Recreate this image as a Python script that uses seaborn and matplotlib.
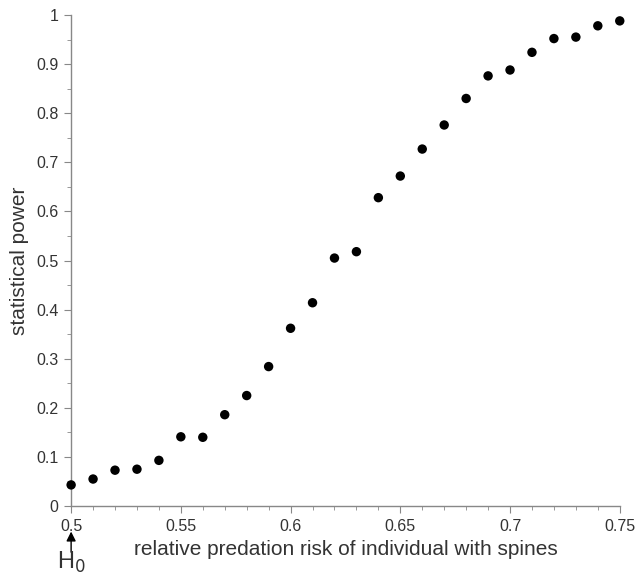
import matplotlib
matplotlib.use("Agg")
import matplotlib.pyplot as plt
from matplotlib.ticker import MultipleLocator
import seaborn as sns

risk = [0.50, 0.51, 0.52, 0.53, 0.54, 0.55, 0.56, 0.57, 0.58, 0.59,
        0.60, 0.61, 0.62, 0.63, 0.64, 0.65, 0.66, 0.67, 0.68, 0.69,
        0.70, 0.71, 0.72, 0.73, 0.74, 0.75]
power = [0.043, 0.055, 0.073, 0.075, 0.093, 0.141, 0.140, 0.186, 0.225, 0.284,
         0.362, 0.414, 0.505, 0.518, 0.628, 0.672, 0.727, 0.776, 0.830, 0.876,
         0.888, 0.924, 0.952, 0.955, 0.978, 0.988]
x_ticks = [0.5, 0.55, 0.6, 0.65, 0.7, 0.75]
x_labels = ["0.5", "0.55", "0.6", "0.65", "0.7", "0.75"]
y_ticks = [0, 0.1, 0.2, 0.3, 0.4, 0.5, 0.6, 0.7, 0.8, 0.9, 1]
y_labels = ["0", "0.1", "0.2", "0.3", "0.4", "0.5", "0.6", "0.7", "0.8", "0.9", "1"]

sns.set_style("ticks")
plt.rcParams["font.family"] = ["Liberation Sans", "DejaVu Sans"]

fig = plt.figure(figsize=(6.35, 5.77), dpi=100)
ax = fig.add_axes([0.112, 0.123, 0.864, 0.851])

sns.scatterplot(x=risk, y=power, ax=ax, color="black", s=46, edgecolor="none", clip_on=False, zorder=3)

ax.set_xlim(0.5, 0.75)
ax.set_ylim(0, 1)
ax.set_xticks(x_ticks)
ax.set_xticklabels(x_labels)
ax.set_yticks(y_ticks)
ax.set_yticklabels(y_labels)
ax.xaxis.set_minor_locator(MultipleLocator(0.01))
ax.yaxis.set_minor_locator(MultipleLocator(0.05))

grey = "#888888"
text_col = "#333333"
for side in ["top", "right"]:
    ax.spines[side].set_visible(False)
for side in ["left", "bottom"]:
    ax.spines[side].set_color(grey)
    ax.spines[side].set_linewidth(1.0)
ax.tick_params(which="major", length=5, color=grey, labelsize=11.5, labelcolor=text_col, pad=4)
ax.tick_params(which="minor", length=3, color=grey)

ax.set_xlabel("relative predation risk of individual with spines", fontsize=15, color=text_col, labelpad=5)
ax.set_ylabel("statistical power", fontsize=15, color=text_col, labelpad=5)

# H0 marker below the 0.5 tick
ax.annotate("", xy=(0.5, -0.052), xytext=(0.5, -0.094), xycoords=("data", "axes fraction"),
            textcoords=("data", "axes fraction"), annotation_clip=False,
            arrowprops=dict(arrowstyle="-|>", color="black", lw=1.0, mutation_scale=14,
                            shrinkA=0, shrinkB=0))
ax.text(0.5, -0.128, r"H$_0$", transform=ax.get_xaxis_transform(), ha="center", va="baseline",
        fontsize=17, color=text_col, clip_on=False)

fig.savefig("out.png", dpi=100)
